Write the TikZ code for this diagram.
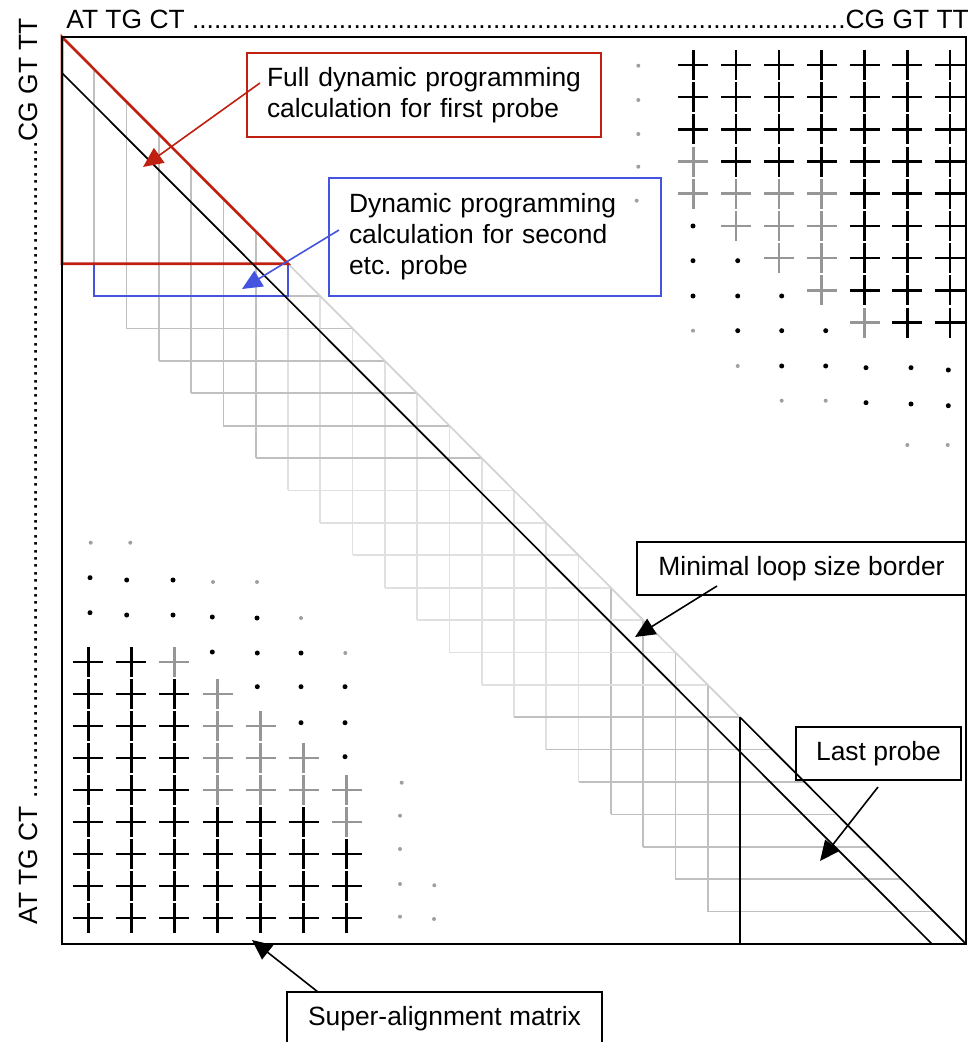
\documentclass[tikz,border=0pt]{standalone}
\usepackage{fontspec}
\setmainfont{Liberation Sans}
\usetikzlibrary{arrows.meta}
\definecolor{pRed}{RGB}{192,32,16}
\definecolor{pBlue}{RGB}{68,84,222}
\definecolor{gDark}{RGB}{192,192,192}
\definecolor{gLight}{RGB}{224,224,224}
\definecolor{gDiag}{RGB}{210,210,210}
\definecolor{gPlus}{RGB}{150,150,150}
\definecolor{gDot}{RGB}{160,160,160}
\begin{document}
\frenchspacing
\begin{tikzpicture}[x=0.5pt,y=-0.5pt,
  lbl/.style={font=\fontsize{13.2pt}{15.5pt}\selectfont, inner sep=0pt},
  box/.style={draw, line width=0.8pt, lbl, minimum height=26.5pt},
  arr/.style={line width=0.8pt, -{Triangle[length=10pt,width=9pt]}},
  gridd/.style={gDark, line width=0.85pt},
  gridl/.style={gLight, line width=0.85pt},
  bplus/.style={black, line width=1.3pt},
  gplus/.style={gPlus, line width=1.3pt},
  bdot/.style={fill=black},
  gdot/.style={fill=gDot}
]
\useasboundingbox (0,0) rectangle (973,1042);

% ---- staircase grid (cell units) ----
\begin{scope}[shift={(62,37)}, x=16.143pt, y=-16.196pt]
  \foreach \k in {1,...,6} \draw[gridd] (\k,\k) -- (\k,\k+7);
  \foreach \k in {7,...,16} \draw[gridl] (\k,\k) -- (\k,\k+7);
  \foreach \k in {17,...,20} \draw[gridd] (\k,\k) -- (\k,\k+7);
  \foreach \r in {8,...,13} \draw[gridd] (\r-7,\r) -- (\r,\r);
  \foreach \r in {14,...,20} \draw[gridl] (\r-7,\r) -- (\r,\r);
  \foreach \r in {21,...,27} \draw[gridd] (\r-7,\r) -- (\r,\r);
  \draw[gDiag, line width=0.85pt] (7,7) -- (21,21);
  \draw[black, line width=0.85pt] (21,21) -- (28,28);
  \draw[black, line width=0.85pt] (21,21) -- (21,28);
  \draw[pBlue, line width=1.2pt] (1,7) rectangle (7,8);
  \draw[pRed, line width=1.3pt] (0,0) -- (7,7) -- (0,7) -- cycle;
\end{scope}

% minimal loop size border line
\coordinate (mlA) at (62,73);
\coordinate (mlB) at (932,944);
\draw[black, line width=0.85pt] (mlA) -- (mlB);

% main matrix border
\draw[black, line width=1.1pt] (62,37) rectangle (966,944);

% ---- top-right pluses ----
\foreach \c/\r in {0/0,1/0,2/0,3/0,4/0,5/0,6/0,0/1,1/1,2/1,3/1,4/1,5/1,6/1,0/2,1/2,2/2,3/2,4/2,5/2,6/2,
  1/3,2/3,3/3,4/3,5/3,6/3,4/4,5/4,6/4,4/5,5/5,6/5,4/6,5/6,6/6,4/7,5/7,6/7,5/8,6/8}
  \draw[bplus] ({693.3+42.8*\c},{65+32.2*\r}) +(-15,0) -- +(15,0) +(0,-15) -- +(0,15);
\foreach \c/\r in {0/3,0/4,1/4,2/4,3/4,1/5,2/5,3/5,2/6,3/6,3/7,4/8}
  \draw[gplus] ({693.3+42.8*\c},{65+32.2*\r}) +(-15,0) -- +(15,0) +(0,-15) -- +(0,15);

% ---- bottom-left pluses ----
\foreach \c/\r in {0/0,1/0,0/1,1/1,2/1,0/2,1/2,2/2,0/3,1/3,2/3,0/4,1/4,2/4,
  0/5,1/5,2/5,3/5,4/5,5/5,
  0/6,1/6,2/6,3/6,4/6,5/6,6/6,0/7,1/7,2/7,3/7,4/7,5/7,6/7,0/8,1/8,2/8,3/8,4/8,5/8,6/8}
  \draw[bplus] ({88.3+43.07*\c},{662+32*\r}) +(-15,0) -- +(15,0) +(0,-15) -- +(0,15);
\foreach \c/\r in {2/0,3/1,3/2,4/2,3/3,4/3,5/3,3/4,4/4,5/4,6/4,6/5}
  \draw[gplus] ({88.3+43.07*\c},{662+32*\r}) +(-15,0) -- +(15,0) +(0,-15) -- +(0,15);

% ---- dots ----
\foreach \p in {(693,226),(693,260.7),(737.7,260.7),(693,296),(737.7,296),(781.7,296),
  (737.7,330.7),(781.7,330.7),(825.7,330.7),(781.7,366),(825.7,366),(866,367.7),(911,367.7),
  (948.3,370),(866,402.7),(911,404),(948.3,405.7),
  (90,577.7),(126.7,580),(173,580),(90,612.7),(126.7,615),(173,615),(212.3,617),(257,618),
  (212.3,652),(257.3,653),(301,653),(257.3,686.7),(301,686.7),(345,686.7),(301,722.7),
  (345,722.7),(345,756.7)}
  \fill[bdot] \p circle[radius=1.25pt];
\foreach \p in {(638.3,65.7),(638.3,100),(638.3,134),(638.3,166.7),(636.7,200.7),(693,330.7),
  (737.7,366),(781.7,400.7),(825.7,400.7),(907.3,445),(947.7,445),
  (90.7,542.7),(130.3,542.7),(213,582),(257,582),(301,618),(345.3,653),(401.7,782.7),
  (400,815.7),(400,849),(400,884),(434.3,885.3),(400,916.7),(434,919)}
  \fill[gdot] \p circle[radius=1pt];

% ---- sequence labels ----
\node[lbl, anchor=base west] (topseq) at (66,29)
  {\hbox to 451pt{AT TG CT \xleaders\hbox{.}\hfill CG GT TT}};
\node[lbl, anchor=base west, rotate=90] (leftseq) at (37,925)
  {\hbox to 453pt{AT TG CT \xleaders\hbox{.}\hfill CG GT TT}};

% ---- callout boxes ----
\node[box, draw=pRed, line width=1.1pt, minimum width=177pt, minimum height=42pt,
  text width=157pt, inner xsep=10pt, align=left] (fullbox) at (424,95)
  {Full dynamic programming\\calculation for first probe};
\node[box, draw=pBlue, line width=1.1pt, minimum width=166pt, minimum height=59pt,
  text width=146pt, inner xsep=10pt, align=left] (secbox) at (495,237)
  {Dynamic programming\\calculation for second\\etc.\ probe};
\node[box, minimum width=164.5pt] (minbox) at (801.5,568.5) {Minimal loop size border};
\node[box, minimum width=82.5pt] (lastbox) at (878.5,753.5) {Last probe};
\node[box, minimum width=157.5pt] (superbox) at (444.5,1018.5) {Super-alignment matrix};

% ---- arrows ----
\coordinate (fullA) at (260,83);   \coordinate (fullT) at (143,167);
\coordinate (secA) at (339,230);   \coordinate (secT) at (242,289);
\coordinate (minA) at (717,586);   \coordinate (minT) at (635,637);
\coordinate (lastA) at (878,787);  \coordinate (lastT) at (820,861);
\coordinate (supA) at (318,992);   \coordinate (supT) at (252,940);
\draw[arr, pRed, fill=pRed] (fullA) -- (fullT);
\draw[arr, pBlue, fill=pBlue] (secA) -- (secT);
\draw[arr] (minA) -- (minT);
\draw[arr] (lastA) -- (lastT);
\draw[arr] (supA) -- (supT);
\end{tikzpicture}
\end{document}
